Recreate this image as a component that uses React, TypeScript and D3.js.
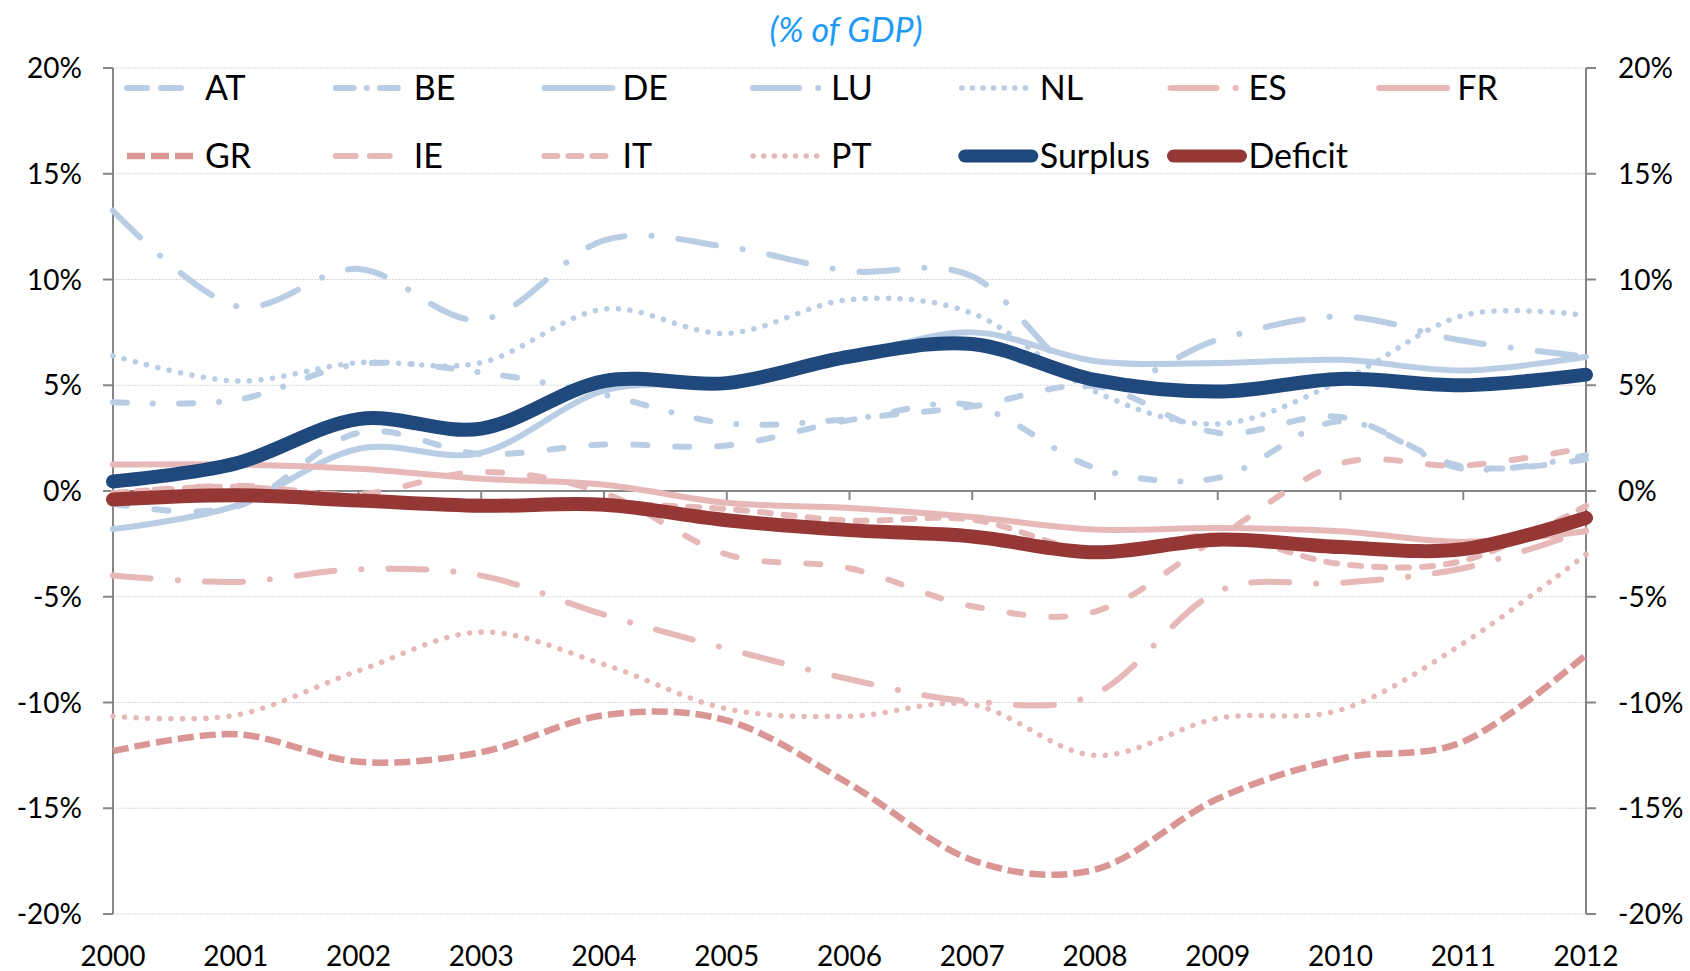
import React from "react";
import * as d3 from "d3";

// ---- data ----
const years = [2000, 2001, 2002, 2003, 2004, 2005, 2006, 2007, 2008, 2009, 2010, 2011, 2012];
const AT = [-0.6, -0.75, 2.75, 1.75, 2.2, 2.15, 3.35, 4.0, 4.95, 2.75, 3.5, 1.15, 1.5];
const BE = [4.2, 4.3, 6.0, 5.6, 4.55, 3.2, 3.4, 4.05, 1.1, 0.62, 3.3, 1.05, 1.7];
const DE = [-1.8, -0.7, 2.0, 1.8, 4.75, 5.1, 6.35, 7.5, 6.15, 6.05, 6.2, 5.7, 6.35];
const LU = [13.25, 8.75, 10.5, 8.1, 11.85, 11.55, 10.4, 10.15, 5.1, 7.15, 8.25, 7.1, 6.35];
const NL = [6.4, 5.2, 6.07, 6.07, 8.6, 7.45, 9.05, 8.4, 4.7, 3.17, 5.2, 8.3, 8.3];
const ES = [-4.0, -4.3, -3.7, -4.0, -5.85, -7.45, -8.9, -9.95, -9.6, -4.75, -4.35, -3.65, -1.85];
const FR = [1.25, 1.25, 1.05, 0.58, 0.3, -0.56, -0.8, -1.23, -1.82, -1.75, -1.9, -2.4, -1.9];
const GR = [-12.3, -11.5, -12.8, -12.35, -10.6, -10.85, -13.85, -17.45, -17.9, -14.55, -12.65, -11.85, -7.75];
const IE = [-0.1, 0.25, -0.15, 0.9, -0.1, -3.0, -3.65, -5.45, -5.7, -2.2, 1.3, 1.2, 2.05];
const IT = [-0.1, 0.2, -0.3, -0.5, -0.6, -0.85, -1.4, -1.35, -2.85, -2.1, -3.45, -3.3, -0.7];
const PT = [-10.65, -10.6, -8.5, -6.67, -8.2, -10.3, -10.65, -10.1, -12.5, -10.75, -10.35, -7.2, -3.0];
const Surplus = [0.45, 1.3, 3.4, 2.95, 5.2, 5.1, 6.35, 6.95, 5.25, 4.7, 5.3, 5.0, 5.5];
const Deficit = [-0.4, -0.2, -0.45, -0.7, -0.65, -1.38, -1.85, -2.15, -2.9, -2.3, -2.65, -2.75, -1.27];

const seriesNames = ["AT", "BE", "DE", "LU", "NL", "ES", "FR", "GR", "IE", "IT", "PT", "Surplus", "Deficit"];
const seriesValues = [AT, BE, DE, LU, NL, ES, FR, GR, IE, IT, PT, Surplus, Deficit];
const yTicks = [-20, -15, -10, -5, 0, 5, 10, 15, 20];
const titleText = "(% of GDP)";

// ---- styles ----
const BLUE = "#B9CDE5";
const PINK = "#E6B9B8";
type Sty = { color: string; width: number; dash?: string; legendDash?: string; cap: "round" | "butt" };
const STYLES: Record<string, Sty> = {
  AT: { color: BLUE, width: 6, dash: "14 28", legendDash: "20 14", cap: "round" },
  BE: { color: BLUE, width: 6, dash: "14 26 0.1 26", legendDash: "18 13 0.1 13", cap: "round" },
  DE: { color: BLUE, width: 6, cap: "round" },
  LU: { color: BLUE, width: 6, dash: "38 27 0.1 27", legendDash: "46 19 0.1 30", cap: "round" },
  NL: { color: BLUE, width: 5.5, dash: "0.1 11.5", legendDash: "0.1 10.5", cap: "round" },
  ES: { color: PINK, width: 6, dash: "38 27 0.1 27", legendDash: "46 19 0.1 30", cap: "round" },
  FR: { color: PINK, width: 6, cap: "round" },
  GR: { color: "#D99694", width: 6.5, dash: "16 6", legendDash: "18 6", cap: "butt" },
  IE: { color: PINK, width: 6, dash: "14 28", legendDash: "20 14", cap: "round" },
  IT: { color: PINK, width: 6, dash: "11 13", legendDash: "13 11", cap: "round" },
  PT: { color: PINK, width: 5.5, dash: "0.1 11.5", legendDash: "0.1 10.5", cap: "round" },
  Surplus: { color: "#1F497D", width: 14, cap: "round" },
  Deficit: { color: "#953735", width: 14, cap: "round" },
};

const W = 1690;
const H = 971;
const FONT = "Lato, 'Open Sans', sans-serif";
const AXIS = "#868686";

export default function App() {
  const x = d3.scaleLinear().domain([2000, 2012]).range([113, 1586]);
  const y = d3.scaleLinear().domain([-20, 20]).range([914, 68]);
  const line = d3
    .line<number>()
    .x((_, i) => x(years[i]))
    .y((d) => y(d))
    .curve(d3.curveCardinal.tension(0));

  const legendX0 = 123;
  const legendDX = 208.7;
  const legendRows = [88, 156];

  return (
    <svg width={W} height={H} style={{ position: "absolute", left: 0, top: 0, background: "#fff" }} fontFamily={FONT}>
      <rect x={0} y={0} width={W} height={H} fill="#fff" />
      {/* title */}
      <text x={846} y={42} textAnchor="middle" fontSize={34} fontStyle="italic" fill="#1E9BF8">
        {titleText}
      </text>

      {/* gridlines */}
      {yTicks.filter((t) => t !== 0).map((t) => (
        <line key={"g" + t} x1={x(2000)} x2={x(2012)} y1={y(t)} y2={y(t)} stroke="#D9D9D9" strokeWidth={1} strokeDasharray="2 1" />
      ))}

      {/* left axis */}
      <line x1={x(2000)} x2={x(2000)} y1={y(20)} y2={y(-20)} stroke={AXIS} strokeWidth={2} />
      {yTicks.map((t) => (
        <g key={"l" + t}>
          <line x1={x(2000) - 10} x2={x(2000)} y1={y(t)} y2={y(t)} stroke={AXIS} strokeWidth={2} />
          <text x={82} y={y(t) + 10} textAnchor="end" fontSize={28} fill="#000">
            {t + "%"}
          </text>
        </g>
      ))}
      {/* right axis */}
      <line x1={x(2012)} x2={x(2012)} y1={y(20)} y2={y(-20)} stroke={AXIS} strokeWidth={2} />
      {yTicks.map((t) => (
        <g key={"r" + t}>
          <line x1={x(2012)} x2={x(2012) + 10} y1={y(t)} y2={y(t)} stroke={AXIS} strokeWidth={2} />
          <text x={1618} y={y(t) + 10} textAnchor="start" fontSize={28} fill="#000">
            {t + "%"}
          </text>
        </g>
      ))}
      {/* category axis at 0 */}
      <line x1={x(2000)} x2={x(2012)} y1={y(0)} y2={y(0)} stroke={AXIS} strokeWidth={2} />
      {years.map((yr) => (
        <g key={"x" + yr}>
          <line x1={x(yr)} x2={x(yr)} y1={y(0)} y2={y(0) + 9} stroke={AXIS} strokeWidth={2} />
          <text x={x(yr)} y={966} textAnchor="middle" fontSize={28} fill="#000">
            {String(yr)}
          </text>
        </g>
      ))}

      {/* series */}
      {seriesNames.map((name, i) => {
        const s = STYLES[name];
        return (
          <path
            key={name}
            d={line(seriesValues[i]) || ""}
            fill="none"
            stroke={s.color}
            strokeWidth={s.width}
            strokeDasharray={s.dash}
            strokeLinecap={s.cap}
            strokeLinejoin="round"
          />
        );
      })}

      {/* legend */}
      {seriesNames.map((name, i) => {
        const row = i < 7 ? 0 : 1;
        const col = i < 7 ? i : i - 7;
        const s = STYLES[name];
        const lx = legendX0 + col * legendDX;
        const ly = legendRows[row];
        const thick = s.width > 10;
        return (
          <g key={"lg" + name}>
            <line
              x1={lx + (thick ? 7 : 4)}
              x2={lx + (thick ? 74 : 72)}
              y1={ly}
              y2={ly}
              stroke={s.color}
              strokeWidth={thick ? 13 : s.width}
              strokeDasharray={s.legendDash}
              strokeLinecap={s.cap}
            />
            <text x={lx + 82} y={ly + 12} fontSize={34} fill="#000">
              {name}
            </text>
          </g>
        );
      })}
    </svg>
  );
}
